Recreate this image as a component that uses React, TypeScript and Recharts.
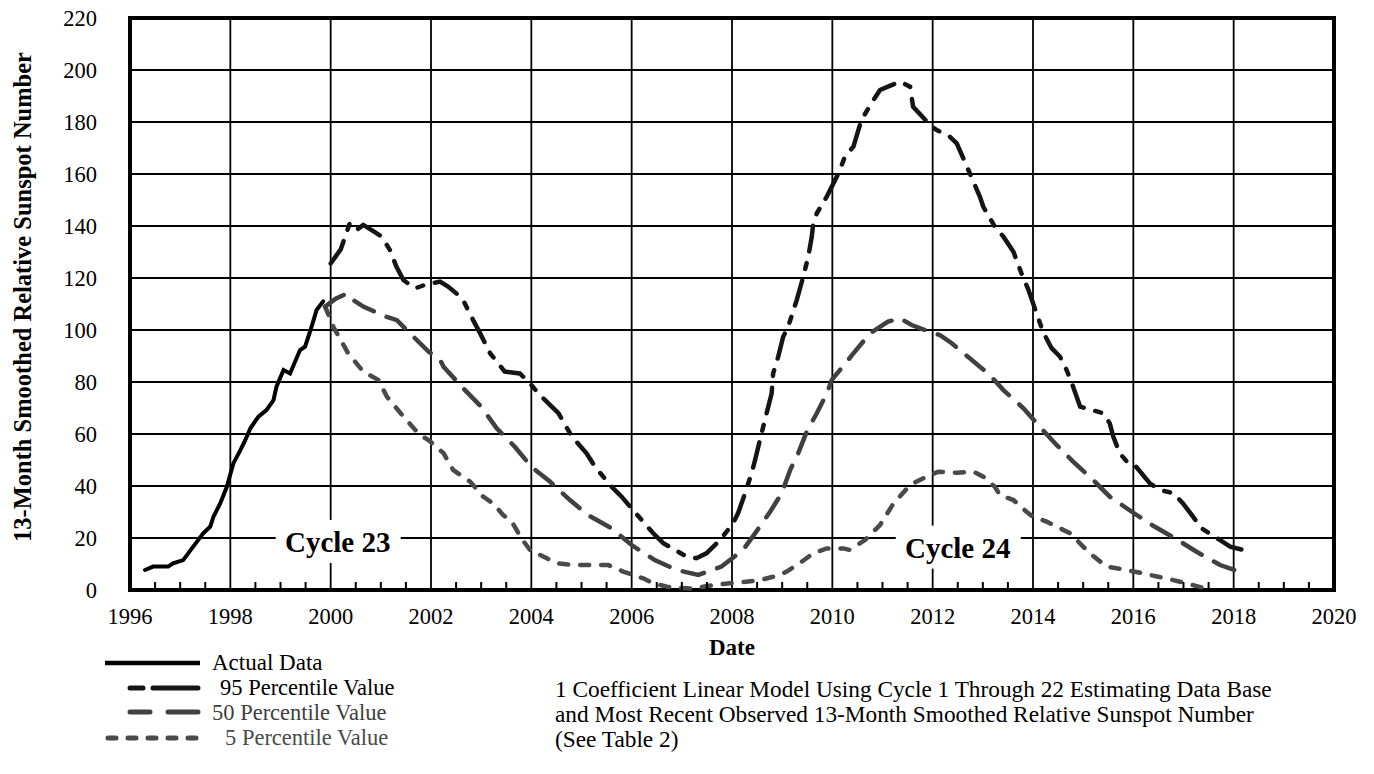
import { LineChart, Line, XAxis, YAxis, CartesianGrid, ReferenceLine, ReferenceArea, ReferenceDot } from 'recharts'

// [year, smoothed sunspot number]
const actualData = [
  [1996.3, 7.7], [1996.46, 9], [1996.76, 9], [1996.86, 10.3], [1997.06, 11.5], [1997.26, 16.7],
  [1997.46, 21.8], [1997.6, 24.4], [1997.66, 28], [1997.8, 33.4], [1997.93, 39.7], [1998.06, 48.7],
  [1998.2, 53.8], [1998.3, 57.7], [1998.4, 62.2], [1998.56, 66.7], [1998.72, 69.2], [1998.86, 73],
  [1998.92, 78.2], [1999.06, 84.6], [1999.19, 83.3], [1999.39, 92.3], [1999.49, 93.6], [1999.62, 101.3],
  [1999.72, 107.7], [1999.85, 111],
]

const p95Data = [
  [2000.0, 125.6], [2000.2, 131], [2000.38, 141], [2000.52, 138.5], [2000.65, 140.4], [2000.85, 138],
  [2001.02, 135.9], [2001.18, 130.8], [2001.31, 124.4], [2001.45, 119.2], [2001.68, 116], [2001.9, 117.5],
  [2002.18, 118.6], [2002.34, 116.7], [2002.51, 114], [2002.64, 111.5], [2002.84, 103.8], [2002.98, 98.7],
  [2003.18, 91], [2003.34, 87.2], [2003.47, 84], [2003.77, 83.3], [2003.97, 79.5], [2004.17, 75],
  [2004.54, 68], [2004.77, 60.3], [2004.9, 57], [2005.1, 52.6], [2005.27, 47.4], [2005.6, 39.7],
  [2005.8, 35.9], [2005.97, 32], [2006.17, 27.6], [2006.43, 21.8], [2006.63, 18], [2007.1, 12.8],
  [2007.29, 12.2], [2007.49, 14.1], [2007.76, 19.2], [2008.02, 25.6], [2008.12, 29.5], [2008.26, 37.2],
  [2008.39, 44.9], [2008.46, 50], [2008.59, 60.3], [2008.69, 68], [2008.79, 75.6], [2008.82, 83.3],
  [2008.92, 89.7], [2009.02, 97.4], [2009.12, 101.3], [2009.29, 111.5], [2009.42, 120.5], [2009.52, 128.2],
  [2009.59, 135.9], [2009.62, 141], [2009.69, 144.9], [2009.89, 151.3], [2010.09, 159], [2010.15, 161.5],
  [2010.25, 166.7], [2010.42, 170.5], [2010.58, 180.8], [2010.82, 188.5], [2010.95, 192.3], [2011.18, 194.2],
  [2011.35, 195.5], [2011.55, 193.6], [2011.61, 185.9], [2011.95, 178.8], [2012.08, 176.9], [2012.34, 174.4],
  [2012.48, 171.8], [2012.74, 160.3], [2012.94, 151.3], [2013.01, 147.4], [2013.24, 139.7], [2013.41, 135.9],
  [2013.61, 130.1], [2013.77, 121.8], [2013.91, 115.4], [2014.07, 106.4], [2014.2, 99.3], [2014.37, 93],
  [2014.54, 89.7], [2014.67, 84.6], [2014.8, 78.2], [2014.94, 70.5], [2015.4, 68], [2015.53, 64.1],
  [2015.6, 59], [2015.73, 52.6], [2015.87, 49.4], [2016.0, 48.7], [2016.33, 41], [2016.53, 38.5],
  [2016.8, 37.2], [2016.99, 33.3], [2017.19, 28.2], [2017.36, 23.7], [2017.73, 19.2], [2017.93, 16.7],
  [2018.19, 15.4],
]

const p50Data = [
  [1999.89, 109], [2000.1, 112], [2000.32, 114], [2000.45, 111.5], [2000.65, 109], [2001.12, 105],
  [2001.32, 103.8], [2001.55, 99.3], [2001.95, 91.7], [2002.18, 88.5], [2002.25, 85.9], [2002.64, 77.6],
  [2003.0, 70.5], [2003.31, 62.2], [2003.67, 55.1], [2004.0, 47.4], [2004.37, 41.7], [2004.77, 34.6],
  [2005.13, 28.8], [2005.6, 23.7], [2006.0, 17.3], [2006.46, 11.5], [2006.9, 7.7], [2007.33, 5.8],
  [2007.79, 9], [2008.22, 15.4], [2008.46, 21.8], [2008.76, 30.1], [2008.99, 37.2], [2009.16, 46.2],
  [2009.32, 52.6], [2009.49, 60.9], [2009.69, 68], [2009.89, 75.6], [2009.99, 80.8], [2010.42, 91],
  [2010.75, 98.7], [2011.11, 103.2], [2011.35, 104.5], [2011.58, 101.9], [2011.95, 99.3], [2012.15, 98],
  [2012.38, 94.9], [2012.74, 89.1], [2012.94, 85.9], [2013.11, 83.3], [2013.41, 76.9], [2013.81, 69.9],
  [2014.1, 63.5], [2014.47, 55.8], [2014.8, 49.4], [2015.2, 42.3], [2015.53, 35.9], [2015.97, 30.1],
  [2016.37, 25], [2016.83, 19.9], [2017.26, 14.7], [2017.73, 9.6], [2018.16, 6.7],
]

const p5Data = [
  [1999.89, 109], [2000.05, 101.3], [2000.35, 91], [2000.65, 84], [2000.95, 80.8], [2001.12, 74.4],
  [2001.45, 66.7], [2001.78, 59.6], [2001.95, 57.7], [2002.25, 52.6], [2002.44, 46.2], [2002.78, 41.7],
  [2003.04, 35.9], [2003.24, 33.3], [2003.44, 28.8], [2003.61, 26.3], [2003.8, 19.9], [2004.0, 14.7],
  [2004.17, 13.5], [2004.5, 10.3], [2004.83, 9.6], [2005.53, 9.6], [2005.83, 7.1], [2006.23, 4.5],
  [2006.43, 2.6], [2006.7, 1.3], [2006.83, 1], [2007.2, 0.5], [2007.63, 1.9], [2007.96, 2.6],
  [2008.19, 3], [2008.56, 3.8], [2008.96, 5.8], [2009.09, 7.1], [2009.39, 10.9], [2009.62, 14.1],
  [2009.89, 16], [2010.22, 16], [2010.35, 15.4], [2010.65, 19.2], [2010.95, 25], [2011.21, 33],
  [2011.55, 40.4], [2011.88, 43.6], [2012.11, 45.5], [2012.48, 45.1], [2012.81, 45.5], [2013.01, 43.6],
  [2013.24, 39.7], [2013.34, 36.5], [2013.61, 34.6], [2013.87, 30.1], [2014.0, 28.2], [2014.27, 26.3],
  [2014.54, 23.7], [2014.74, 21.8], [2015.0, 16.7], [2015.13, 14.1], [2015.47, 9], [2015.87, 7.7],
  [2016.33, 5.8], [2016.8, 3.8], [2017.19, 1.9], [2017.36, 1],
]

const xTicks = [
  1996, 1996.5, 1997, 1997.5, 1998, 1998.5, 1999, 1999.5, 2000, 2000.5, 2001, 2001.5, 2002, 2002.5,
  2003, 2003.5, 2004, 2004.5, 2005, 2005.5, 2006, 2006.5, 2007, 2007.5, 2008, 2008.5, 2009, 2009.5,
  2010, 2010.5, 2011, 2011.5, 2012, 2012.5, 2013, 2013.5, 2014, 2014.5, 2015, 2015.5, 2016, 2016.5,
  2017, 2017.5, 2018, 2018.5, 2019, 2019.5, 2020,
]
const gridYears = [1998, 2000, 2002, 2004, 2006, 2008, 2010, 2012, 2014, 2016, 2018]
const labelYears = [1996, 1998, 2000, 2002, 2004, 2006, 2008, 2010, 2012, 2014, 2016, 2018, 2020]
const yTicks = [0, 20, 40, 60, 80, 100, 120, 140, 160, 180, 200, 220]

const cycleLabels = [
  { text: 'Cycle 23', year: 2000.14, value: 18.5 },
  { text: 'Cycle 24', year: 2012.5, value: 16.3 },
]

const FONT = 'Liberation Serif, Tinos, DejaVu Serif, serif'
const fontStyle = { fontFamily: FONT }

const toPoints = (rows: number[][]) => rows.map(([year, value]) => ({ year, value }))

function XTick(props: any) {
  const { x, y, payload } = props
  const v = payload.value
  return (
    <g>
      {v !== 1996 && v !== 2020 && !gridYears.includes(v) && (
        <line x1={x} x2={x} y1={y} y2={y - 8} stroke="#000" strokeWidth={2} />
      )}
      {labelYears.includes(v) && (
        <text x={x} y={y + 34} textAnchor="middle" fontSize={22.5} style={fontStyle} fill="#000">
          {v}
        </text>
      )}
    </g>
  )
}

function YTick(props: any) {
  const { x, y, payload } = props
  return (
    <text x={x} y={y} dy="0.35em" textAnchor="end" fontSize={22.5} style={fontStyle} fill="#000">
      {payload.value}
    </text>
  )
}

function CycleTag(props: any) {
  const { cx, cy, text } = props
  return (
    <g>
      <rect x={cx - 62} y={cy - 22} width={125} height={43} fill="#fff" />
      <text x={cx} y={cy + 10} textAnchor="middle" fontSize={29} fontWeight="bold" style={fontStyle} fill="#000">
        {text}
      </text>
    </g>
  )
}

export default function App() {
  return (
    <div style={{ position: 'absolute', left: 0, top: 0, width: 1374, height: 774, background: '#fff', fontFamily: FONT }}>
      <LineChart width={1374} height={774} margin={{ top: 18, right: 40, bottom: 144, left: 70 }}>
        <CartesianGrid vertical={false} stroke="#000" strokeWidth={1.8} />
        {gridYears.map((yr) => (
          <ReferenceLine key={yr} x={yr} stroke="#000" strokeWidth={1.8} />
        ))}
        <XAxis
          dataKey="year"
          type="number"
          domain={[1996, 2020]}
          ticks={xTicks}
          interval={0}
          tickLine={false}
          tickSize={0}
          tickMargin={0}
          height={40}
          axisLine={false}
          tick={<XTick />}
          allowDuplicatedCategory={false}
        />
        <YAxis
          type="number"
          domain={[0, 220]}
          ticks={yTicks}
          interval={0}
          width={60}
          tickLine={false}
          tickSize={0}
          tickMargin={33}
          axisLine={false}
          tick={<YTick />}
        />
        {cycleLabels.map((c) => (
          <ReferenceDot
            key={c.text}
            x={c.year}
            y={c.value}
            r={0}
            shape={(p: any) => <CycleTag {...p} text={c.text} />}
          />
        ))}
        <Line data={toPoints(p5Data)} dataKey="value" type="linear" stroke="#4a4a4a" strokeWidth={4.5}
          strokeDasharray="9 12" strokeLinecap="round" dot={false} isAnimationActive={false} />
        <Line data={toPoints(p50Data)} dataKey="value" type="linear" stroke="#404040" strokeWidth={4.5}
          strokeDasharray="22 14" strokeLinecap="round" dot={false} isAnimationActive={false} />
        <Line data={toPoints(p95Data)} dataKey="value" type="linear" stroke="#151515" strokeWidth={4.5}
          strokeDasharray="26 12 6 12" strokeLinecap="round" dot={false} isAnimationActive={false} />
        <Line data={toPoints(actualData)} dataKey="value" type="linear" stroke="#000" strokeWidth={4}
          strokeLinecap="round" dot={false} isAnimationActive={false} />
        <ReferenceArea x1={1996} x2={2020} y1={0} y2={220} fill="none" stroke="#000" strokeWidth={4} ifOverflow="visible" />
      </LineChart>

      <svg width={1374} height={774} style={{ position: 'absolute', left: 0, top: 0, pointerEvents: 'none', fontFamily: FONT }}>
        <text
          transform="translate(31 297) rotate(-90)"
          textAnchor="middle"
          fontSize={25}
          fontWeight="bold"
          style={fontStyle}
          textLength={490}
          lengthAdjust="spacingAndGlyphs"
        >
          13-Month Smoothed Relative Sunspot Number
        </text>
        <text x={732} y={655} textAnchor="middle" fontSize={23} fontWeight="bold" style={fontStyle}>Date</text>

        <line x1={105} x2={200} y1={663} y2={663} stroke="#000" strokeWidth={4.5} />
        <text x={212} y={670} fontSize={23} style={fontStyle}>Actual Data</text>

        <line x1={130} x2={143} y1={688} y2={688} stroke="#151515" strokeWidth={5} strokeLinecap="round" />
        <line x1={153} x2={198} y1={688} y2={688} stroke="#151515" strokeWidth={5} strokeLinecap="round" />
        <text x={220} y={695} fontSize={22.5} style={fontStyle}>95 Percentile Value</text>

        <line x1={130} x2={150} y1={712} y2={712} stroke="#404040" strokeWidth={5} strokeLinecap="round" />
        <line x1={168} x2={198} y1={712} y2={712} stroke="#404040" strokeWidth={5} strokeLinecap="round" />
        <text x={212} y={720} fontSize={22.5} style={fontStyle} fill="#404040">50 Percentile Value</text>

        <line x1={108} x2={200} y1={738} y2={738} stroke="#4a4a4a" strokeWidth={5} strokeDasharray="8 12" strokeLinecap="round" />
        <text x={225} y={745} fontSize={22.5} style={fontStyle} fill="#4a4a4a">5 Percentile Value</text>

        <text x={555} y={697} fontSize={23.3} style={fontStyle}>1 Coefficient Linear Model Using Cycle 1 Through 22 Estimating Data Base</text>
        <text x={555} y={722} fontSize={23.3} style={fontStyle}>and Most Recent Observed 13-Month Smoothed Relative Sunspot Number</text>
        <text x={555} y={747} fontSize={23.3} style={fontStyle}>(See Table 2)</text>
      </svg>
    </div>
  )
}
